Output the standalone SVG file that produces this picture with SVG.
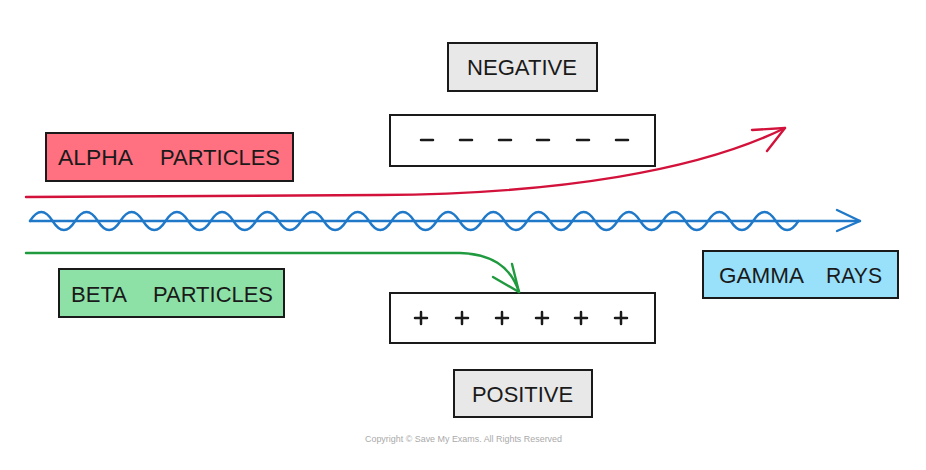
<svg xmlns="http://www.w3.org/2000/svg" width="926" height="470" viewBox="0 0 926 470">
<style>
.box{stroke:#1a1a1a;stroke-width:2}
.lbl{font-family:"Liberation Sans",Arial,sans-serif;font-size:22px;fill:#1a1a1a}
.sign{stroke:#1a1a1a;stroke-width:2.5;stroke-linecap:round;fill:none}
.ray{fill:none;stroke-width:2.4;stroke-linecap:round;stroke-linejoin:round}
.copy{font-family:"Liberation Sans",Arial,sans-serif;font-size:9px;fill:#aaaaaa}
</style>
<rect x="0" y="0" width="926" height="470" fill="#ffffff"/>

<g id="negative-label">
<rect class="box" x="448" y="43" width="149" height="48" fill="#e8e8e8"/>
<text class="lbl" x="467" y="75" textLength="110" lengthAdjust="spacingAndGlyphs">NEGATIVE</text>
</g>

<g id="negative-plate">
<rect class="box" x="390" y="115" width="265" height="51" fill="#ffffff"/>
<path class="sign" d="M421,140h12M460,140h12M499,140h12M537,140h12M577,140h12M616,140h12"/>
</g>

<g id="alpha-label">
<rect class="box" x="46" y="133" width="247" height="48" fill="#ff7080"/>
<text class="lbl" y="165"><tspan x="58" textLength="75" lengthAdjust="spacingAndGlyphs">ALPHA</tspan><tspan x="160" textLength="120" lengthAdjust="spacingAndGlyphs">PARTICLES</tspan></text>
</g>

<g id="beta-label">
<rect class="box" x="59" y="269" width="225" height="48" fill="#8de1a6"/>
<text class="lbl" y="302"><tspan x="71" textLength="56" lengthAdjust="spacingAndGlyphs">BETA</tspan><tspan x="153" textLength="120" lengthAdjust="spacingAndGlyphs">PARTICLES</tspan></text>
</g>

<g id="gamma-label">
<rect class="box" x="703" y="251" width="195" height="47" fill="#99e1fb"/>
<text class="lbl" y="283"><tspan x="719" textLength="85" lengthAdjust="spacingAndGlyphs">GAMMA</tspan><tspan x="826" textLength="56" lengthAdjust="spacingAndGlyphs">RAYS</tspan></text>
</g>

<g id="positive-plate">
<rect class="box" x="390" y="293" width="265" height="50" fill="#ffffff"/>
<path class="sign" d="M415,318h12M421,312v12M456,318h12M462,312v12M496,318h12M502,312v12M536,318h12M542,312v12M575,318h12M581,312v12M615,318h12M621,312v12"/>
</g>

<g id="positive-label">
<rect class="box" x="454" y="370" width="138" height="47" fill="#e8e8e8"/>
<text class="lbl" x="472" y="402" textLength="101" lengthAdjust="spacingAndGlyphs">POSITIVE</text>
</g>

<g id="connectors">
<g id="alpha-ray">
<path class="ray" stroke="#d3123b" d="M26,197 L380,195 C560,194 700,170 785,128"/>
<path class="ray" stroke="#d3123b" d="M752,130 L785,128 L767,151"/>
</g>
<g id="gamma-ray">
<path class="ray" stroke="#1f78c8" d="M30,221 L860,221"/>
<path class="ray" stroke="#1f78c8" d="M30,221 q11.3,-18 22.6,0 t22.6,0 t22.6,0 t22.6,0 t22.6,0 t22.6,0 t22.6,0 t22.6,0 t22.6,0 t22.6,0 t22.6,0 t22.6,0 t22.6,0 t22.6,0 t22.6,0 t22.6,0 t22.6,0 t22.6,0 t22.6,0 t22.6,0 t22.6,0 t22.6,0 t22.6,0 t22.6,0 t22.6,0 t22.6,0 t22.6,0 t22.6,0 t22.6,0 t22.6,0 t22.6,0 t22.6,0 t22.6,0 t22.6,0"/>
<path class="ray" stroke="#1f78c8" d="M837,210 L860,221 L837,231"/>
</g>
<g id="beta-ray">
<path class="ray" stroke="#1f9a3e" d="M26,253 L460,253 C490,254 510,265 519,292"/>
<path class="ray" stroke="#1f9a3e" d="M493,277 L519,292 L512,264"/>
</g>
</g>

<text class="copy" x="365" y="442" textLength="197" lengthAdjust="spacingAndGlyphs">Copyright © Save My Exams. All Rights Reserved</text>
</svg>
